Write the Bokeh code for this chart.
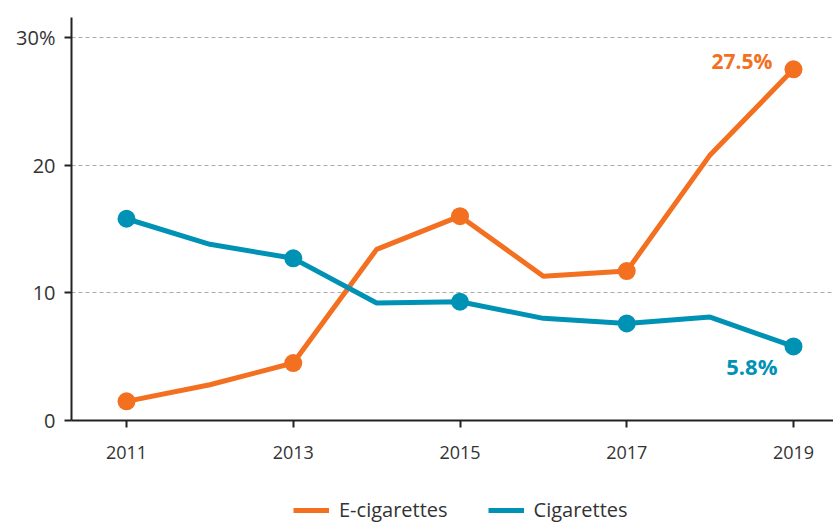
from bokeh.plotting import figure
from bokeh.layouts import column
from bokeh.models import ColumnDataSource, FixedTicker, Range1d, Legend, LegendItem
from bokeh.core.properties import value
from bokeh.embed import file_html
from bokeh.resources import INLINE

years = [2011, 2012, 2013, 2014, 2015, 2016, 2017, 2018, 2019]
ecig = [1.5, 2.8, 4.5, 13.4, 16.0, 11.3, 11.7, 20.8, 27.5]
cig = [15.8, 13.8, 12.7, 9.2, 9.3, 8.0, 7.6, 8.1, 5.8]
marker_years = [2011, 2013, 2015, 2017, 2019]
x_ticks = [2011, 2013, 2015, 2017, 2019]
y_ticks = [0, 10, 20, 30]
y_labels = {0: "0", 10: "10", 20: "20", 30: "30%"}
series_names = ["E-cigarettes", "Cigarettes"]

ORANGE = "#F37021"
TEAL = "#0092B4"
FONT = "Open Sans"

p = figure(width=833, height=470, output_backend="svg", toolbar_location=None,
           x_range=Range1d(2010.34, 2019.48), y_range=Range1d(0, 31.56))
p.min_border_left = 71
p.min_border_right = 0
p.min_border_top = 17
p.min_border_bottom = 50
p.outline_line_color = None
p.background_fill_color = "white"

src_e = ColumnDataSource(dict(x=years, y=ecig))
src_c = ColumnDataSource(dict(x=years, y=cig))
me = ColumnDataSource(dict(x=marker_years, y=[ecig[years.index(v)] for v in marker_years]))
mc = ColumnDataSource(dict(x=marker_years, y=[cig[years.index(v)] for v in marker_years]))

p.line("x", "y", source=src_e, line_color=ORANGE, line_width=5)
p.line("x", "y", source=src_c, line_color=TEAL, line_width=5)
p.scatter("x", "y", source=me, size=18, fill_color=ORANGE, line_color=None)
p.scatter("x", "y", source=mc, size=18, fill_color=TEAL, line_color=None)

# end labels
p.text(x=[years[-1]], y=[ecig[-1]], text=[f"{ecig[-1]}%"], x_offset=-21, y_offset=-8,
       text_align="right", text_baseline="alphabetic", text_color=ORANGE,
       text_font=value(FONT), text_font_style="bold", text_font_size="21px")
p.text(x=[years[-1]], y=[cig[-1]], text=[f"{cig[-1]}%"], x_offset=-16, y_offset=20,
       text_align="right", text_baseline="alphabetic", text_color=TEAL,
       text_font=value(FONT), text_font_style="bold", text_font_size="22px")

# axes
p.xaxis.ticker = FixedTicker(ticks=x_ticks)
p.yaxis.ticker = FixedTicker(ticks=y_ticks)
p.yaxis.major_label_overrides = y_labels
for ax in (p.xaxis, p.yaxis):
    ax.axis_line_color = "#222222"
    ax.axis_line_width = 2
    ax.major_tick_line_color = "#222222"
    ax.major_tick_line_width = 2
    ax.major_tick_in = 0
    ax.major_tick_out = 7
    ax.minor_tick_line_color = None
    ax.major_label_text_font = FONT
    ax.major_label_text_color = "#333333"
p.yaxis.major_label_text_font_size = "20px"
p.xaxis.major_label_text_font_size = "18px"
p.xaxis.major_label_standoff = 18
p.yaxis.major_label_standoff = 9

p.xgrid.grid_line_color = None
p.ygrid.ticker = FixedTicker(ticks=[10, 20, 30])
p.ygrid.grid_line_color = "#AAAAAA"
p.ygrid.grid_line_width = 1
p.ygrid.grid_line_dash = "4 3"

# legend in its own strip below the chart
lf = figure(width=833, height=53, output_backend="svg", toolbar_location=None,
            x_range=Range1d(0, 1), y_range=Range1d(0, 1),
            x_axis_location=None, y_axis_location=None)
lf.grid.visible = False
lf.outline_line_color = None
lf.min_border = 0
lr_e = lf.line(x=[-2, -1], y=[-2, -1], line_color=ORANGE, line_width=5)
lr_c = lf.line(x=[-2, -1], y=[-2, -1], line_color=TEAL, line_width=5)
legend = Legend(items=[LegendItem(label=series_names[0], renderers=[lr_e]),
                       LegendItem(label=series_names[1], renderers=[lr_c])],
                orientation="horizontal", location=(222, 0))
legend.label_text_font = FONT
legend.label_text_font_size = "20px"
legend.label_text_color = "#333333"
legend.glyph_width = 36
legend.spacing = 40
legend.border_line_color = None
legend.background_fill_alpha = 0
legend.margin = 0
legend.padding = 2
legend.label_standoff = 10
lf.add_layout(legend)

open("out.html", "w").write(file_html(column(p, lf, spacing=0), INLINE))
